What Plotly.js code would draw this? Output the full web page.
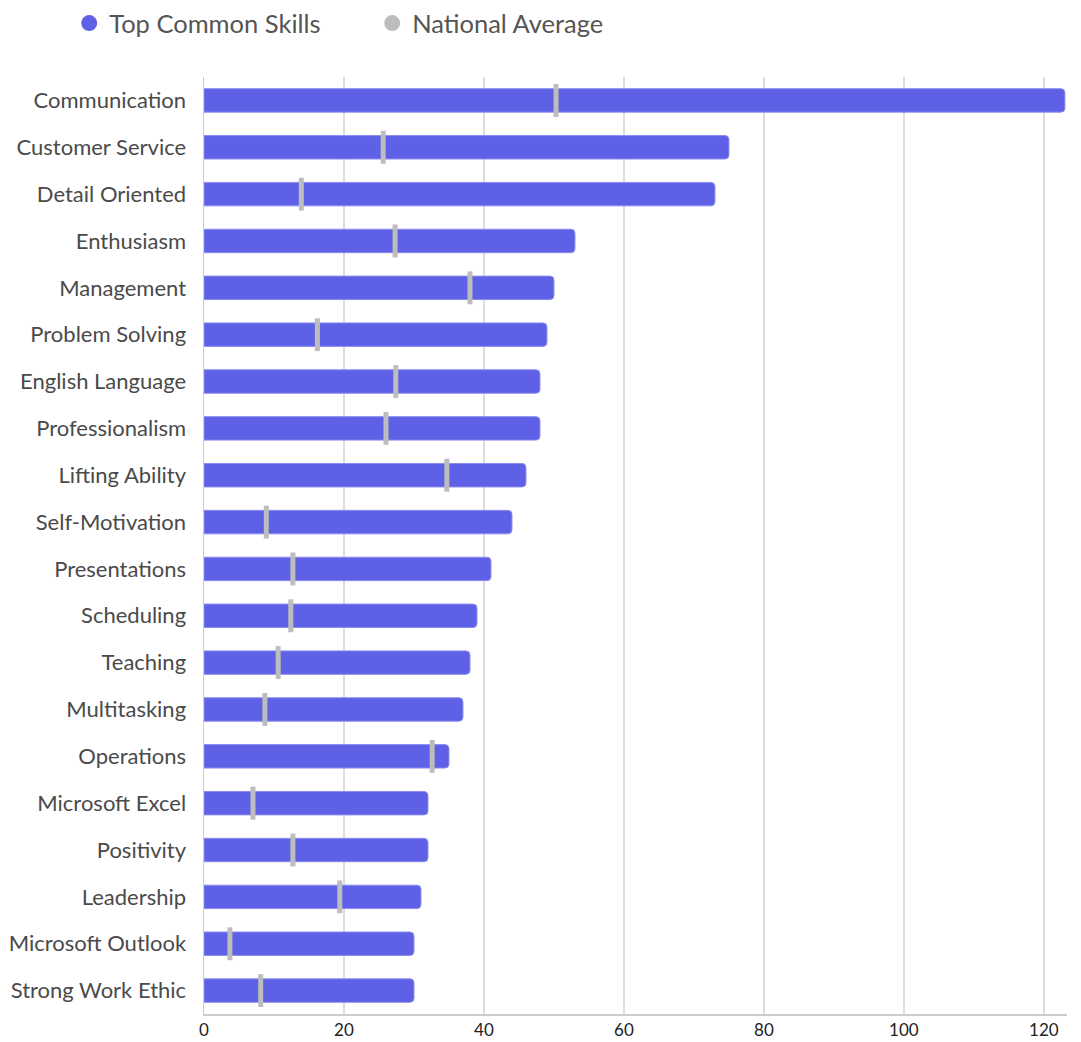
<!DOCTYPE html>
<html>
<head>
<meta charset="utf-8">
<script src="https://cdn.plot.ly/plotly-3.0.1.min.js"></script>
<style>html,body{margin:0;padding:0;background:#fff;}#chart{width:1081px;height:1042px;}</style>
</head>
<body>
<div id="chart"></div>
<script>
const skills = ["Communication","Customer Service","Detail Oriented","Enthusiasm","Management","Problem Solving","English Language","Professionalism","Lifting Ability","Self-Motivation","Presentations","Scheduling","Teaching","Multitasking","Operations","Microsoft Excel","Positivity","Leadership","Microsoft Outlook","Strong Work Ethic"];
const topCommon = [123,75,73,53,50,49,48,48,46,44,41,39,38,37,35,32,32,31,30,30];
const nationalAvg = [50.3,25.6,13.9,27.3,38,16.2,27.4,26,34.7,8.9,12.7,12.4,10.6,8.7,32.6,7,12.7,19.4,3.7,8.1];
const seriesNames = ["Top Common Skills","National Average"];
const barColor = "#5E60E6";
const avgColor = "#BDBDBD";

const traces = [
  {type:"bar", orientation:"h", x:topCommon, y:skills, name:seriesNames[0],
   marker:{color:barColor, cornerradius:4, line:{color:"#8B8CF0", width:1}},
   width:0.5, showlegend:false},
  {type:"scatter", mode:"markers", x:nationalAvg, y:skills, name:seriesNames[1],
   marker:{symbol:"line-ns", size:23.5, line:{color:avgColor, width:5}, color:avgColor},
   showlegend:false},
  {type:"scatter", mode:"markers", x:[null], y:[null], name:seriesNames[0],
   marker:{symbol:"circle", size:18, color:barColor}, showlegend:true},
  {type:"scatter", mode:"markers", x:[null], y:[null], name:seriesNames[1],
   marker:{symbol:"circle", size:18, color:avgColor}, showlegend:true}
];

const layout = {
  width:1081, height:1042,
  margin:{l:204, r:14, t:77, b:28},
  paper_bgcolor:"#fff", plot_bgcolor:"#fff",
  font:{family:"Lato, 'Open Sans', sans-serif", color:"#444", size:20},
  showlegend:true,
  legend:{orientation:"h", xref:"container", x:0.064, xanchor:"left", yref:"container", y:1, yanchor:"top",
          font:{size:25.5, color:"#555"}, traceorder:"normal", entrywidth:258, entrywidthmode:"pixels"},
  xaxis:{range:[0,123.3], tickvals:[0,20,40,60,80,100,120], showgrid:true, gridcolor:"#DDDDDD", gridwidth:1.5,
         zeroline:false, showline:true, linecolor:"#CCCCCC", linewidth:1.5, ticks:"", tickfont:{size:17, color:"#222"}, fixedrange:true},
  yaxis:{categoryorder:"array", categoryarray:skills, range:[19.5,-0.5], autorange:false, showgrid:false, zeroline:false,
         showline:true, linecolor:"#CCCCCC", linewidth:1.5,
         ticks:"", ticklabelstandoff:12, tickfont:{size:22, color:"#4a4a4a"}, fixedrange:true},
  bargap:0.5
};
Plotly.newPlot("chart", traces, layout, {displayModeBar:false, staticPlot:true});
</script>
</body>
</html>
